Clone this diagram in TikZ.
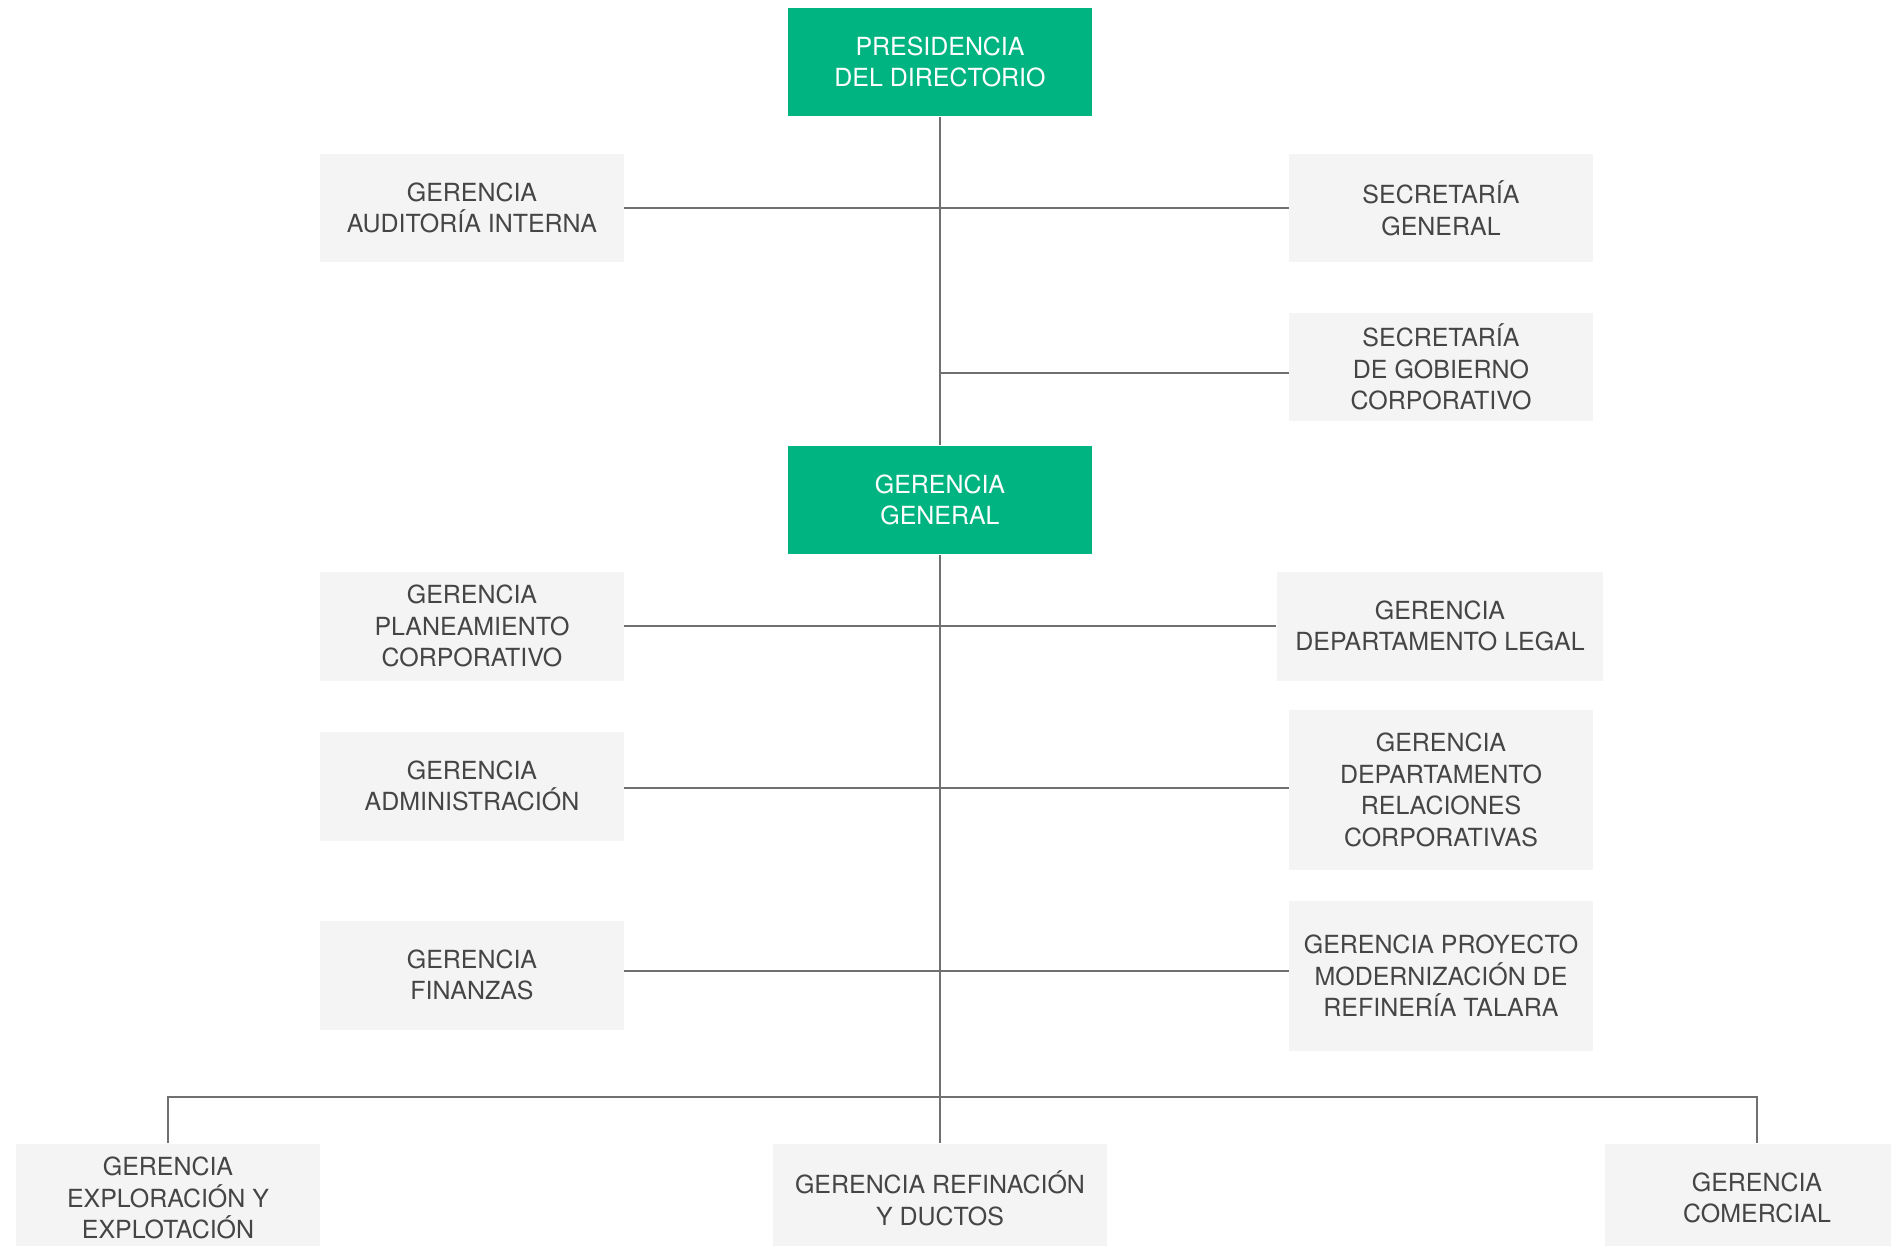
\documentclass[tikz,border=0pt]{standalone}
\usepackage{fontspec}
\setmainfont{TeX Gyre Heros}
\usepackage{tikz}
\usetikzlibrary{calc}
\definecolor{headgreen}{HTML}{00B482}
\definecolor{unitfill}{HTML}{F4F4F4}
\definecolor{unittext}{HTML}{454545}
\definecolor{linkgray}{HTML}{707070}

\begin{document}
\begin{tikzpicture}[
  x=0.02cm, y=-0.02cm,
  every node/.style={font=\fontsize{14.2}{18}\selectfont, align=center, inner sep=0pt},
  unitbox/.style={fill=unitfill, text=unittext, minimum width=6.08cm, minimum height=2.18cm},
  headbox/.style={fill=headgreen, text=white, minimum width=6.08cm, minimum height=2.18cm},
  link/.style={draw=linkgray, line width=1.1pt},
]
\useasboundingbox (0,0) rectangle (1891,1245);

% Directorio
\node[headbox] (pres) at (940,62) {PRESIDENCIA\\DEL DIRECTORIO};
\node[unitbox] (audit) at (472,208) {GERENCIA\\AUDITORÍA INTERNA};
\node[unitbox] (secgen) at (1441,208) {SECRETARÍA\\GENERAL};
\node[unitbox] (secgob) at (1441,367) {SECRETARÍA\\DE GOBIERNO\\CORPORATIVO};

% Gerencia general
\node[headbox] (gg) at (940,500) {GERENCIA\\GENERAL};
\node[unitbox] (plan) at (472,626) {GERENCIA\\PLANEAMIENTO\\CORPORATIVO};
\node[unitbox, minimum width=6.54cm] (legal) at (1440,626) {GERENCIA\\DEPARTAMENTO LEGAL};
\node[unitbox] (admin) at (472,786) {GERENCIA\\ADMINISTRACIÓN};
\node[unitbox, minimum height=3.22cm] (relac) at (1441,790) {GERENCIA\\DEPARTAMENTO\\RELACIONES\\CORPORATIVAS};
\node[unitbox] (fin) at (472,975) {GERENCIA\\FINANZAS};
\node[unitbox, minimum height=3.02cm] (proy) at (1441,976) {GERENCIA PROYECTO\\MODERNIZACIÓN DE\\REFINERÍA TALARA};

% Lineas de negocio
\node[unitbox] (explo) at (168,1198) {GERENCIA\\EXPLORACIÓN Y\\EXPLOTACIÓN};
\node[unitbox, minimum width=6.68cm] (refin) at (940,1198) {GERENCIA REFINACIÓN\\Y DUCTOS};
\node[unitbox] (comer) at (1757,1198) {GERENCIA\\COMERCIAL};

% Conectores
\coordinate (jgob) at (940,373);
\coordinate (jadm) at (940,788);
\coordinate (jfin) at (940,971);
\coordinate (bus) at (940,1097);

\draw[link] (pres.south) -- (gg.north);
\draw[link] (gg.south) -- (refin.north);
\draw[link] (audit.east) -- (secgen.west);
\draw[link] (jgob) -- (jgob -| secgob.west);
\draw[link] (plan.east) -- (legal.west);
\draw[link] (jadm -| admin.east) -- (jadm -| relac.west);
\draw[link] (jfin -| fin.east) -- (jfin -| proy.west);
\draw[link] (explo.north) |- (bus) -| (comer.north);

\end{tikzpicture}
\end{document}
